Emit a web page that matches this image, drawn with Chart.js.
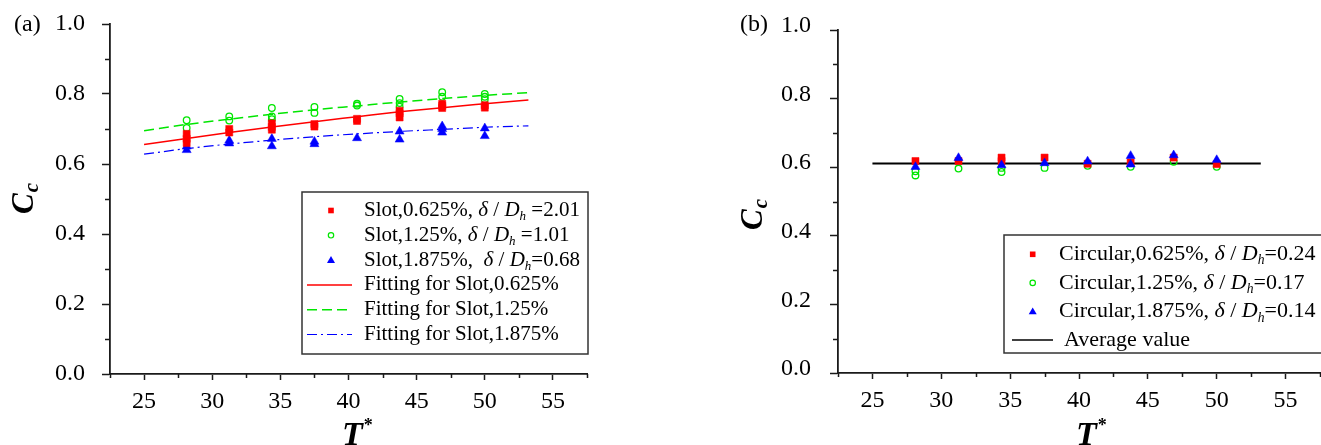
<!DOCTYPE html>
<html>
<head>
<meta charset="utf-8">
<script src="https://cdn.jsdelivr.net/npm/chart.js@4.4.1/dist/chart.umd.min.js"></script>
<style>
  html, body { margin: 0; padding: 0; background: #fff; }
  body { width: 1321px; height: 445px; position: relative; overflow: hidden; }
  .panel { position: absolute; top: 0; height: 445px; }
  #panelA { left: 0; width: 660px; }
  #panelB { left: 700px; width: 621px; }
</style>
</head>
<body>
<div class="panel" id="panelA"><canvas id="chartA"></canvas></div>
<div class="panel" id="panelB"><canvas id="chartB"></canvas></div>
<script>
// T* positions of the measured columns
const tCols = [28.125, 31.25, 34.375, 37.5, 40.625, 43.75, 46.875, 50];

// (a) slot openings, several repeats per column
const slot0625 = [[0.686, 0.672, 0.660], [0.700, 0.690], [0.716, 0.706, 0.698], [0.714, 0.707], [0.729, 0.723], [0.752, 0.745, 0.733], [0.772, 0.766, 0.760], [0.768, 0.761]];
const slot125 = [[0.725, 0.703], [0.736, 0.724], [0.760, 0.736, 0.728], [0.763, 0.746], [0.772, 0.767], [0.786, 0.774, 0.764], [0.805, 0.792], [0.800, 0.792, 0.785]];
const slot1875 = [[0.650, 0.640], [0.667, 0.659], [0.672, 0.651], [0.664, 0.657], [0.674], [0.693, 0.670], [0.708, 0.700, 0.690], [0.702, 0.680]];

// (a) fitted curves
const fitT = [25, 28.125, 31.25, 34.375, 37.5, 40.625, 43.75, 46.875, 50, 53.2];
const fit0625 = [0.656, 0.673, 0.690, 0.706, 0.721, 0.735, 0.749, 0.761, 0.772, 0.783];
const fit125 = [0.695, 0.713, 0.728, 0.742, 0.755, 0.766, 0.777, 0.787, 0.796, 0.804];
const fit1875 = [0.628, 0.644, 0.657, 0.668, 0.678, 0.686, 0.693, 0.699, 0.705, 0.709];

// (b) circular openings
const circ0625 = [[0.618], [0.618], [0.628, 0.618], [0.628], [0.610], [0.614], [0.628], [0.609]];
const circ125 = [[0.588, 0.576], [0.596], [0.598, 0.586], [0.598], [0.604], [0.601], [0.616], [0.601]];
const circ1875 = [[0.601], [0.627], [0.606], [0.612], [0.617], [0.633, 0.608], [0.635], [0.621]];
const avgT = [25, 53.2];
const avgVal = [0.611, 0.611];

// axis ticks
const xTicks = [25, 30, 35, 40, 45, 50, 55];
const xMinor = [22.5, 27.5, 32.5, 37.5, 42.5, 47.5, 52.5, 57.5];
const yTicks = [0, 0.2, 0.4, 0.6, 0.8, 1.0];
const yMinor = [0.1, 0.3, 0.5, 0.7, 0.9];

const serif = '"Liberation Serif", "Times New Roman", serif';
const axisColor = '#1a1a1a';
const RED = '#ff0000', GREEN = '#00e600', BLUE = '#0000ff';

function columnPoints(cols) {
  return cols.flatMap((vals, i) => vals.map(v => ({ x: tCols[i], y: v })));
}
function linePoints(xs, ys) {
  return xs.map((x, i) => ({ x: x, y: ys[i] }));
}

function markerSet(data, style, color, order) {
  const hollow = style === 'circle';
  return {
    data: data,
    order: order,
    showLine: false,
    pointStyle: style,
    pointRadius: style === 'rect' ? 5 : style === 'triangle' ? 5.2 : 3.3,
    pointBackgroundColor: hollow ? 'rgba(255,255,255,0)' : color,
    pointBorderColor: color,
    pointBorderWidth: hollow ? 1.3 : 0.5
  };
}
function lineSet(data, color, dash, width, order) {
  return {
    data: data,
    order: order,
    showLine: true,
    pointRadius: 0,
    borderColor: color,
    borderWidth: width,
    borderDash: dash,
    cubicInterpolationMode: 'monotone'
  };
}

// no extra label padding, so the layout padding alone places the plot area
function noPad(s) {
  s.paddingTop = 0;
  s.paddingBottom = 0;
  s.paddingLeft = 0;
  s.paddingRight = 0;
}

function makeScales(yWidth, xHeight, yShift, yPad) {
  return {
    x: {
      type: 'linear',
      min: 22.5,
      max: 57.5,
      afterBuildTicks: s => { s.ticks = xTicks.map(v => ({ value: v })); },
      afterFit: s => { s.height = xHeight; noPad(s); },
      border: { display: true, color: axisColor, width: 1.8 },
      grid: { display: true, drawOnChartArea: false, drawTicks: true, tickLength: 6, tickColor: axisColor, tickWidth: 1.5 },
      ticks: { color: '#000', font: { family: serif, size: 24 }, padding: 7, maxRotation: 0, autoSkip: false, callback: v => String(v) }
    },
    y: {
      type: 'linear',
      min: 0,
      max: 1,
      afterBuildTicks: s => { s.ticks = yTicks.map(v => ({ value: v })); },
      afterFit: s => { s.width = yWidth; noPad(s); },
      border: { display: true, color: axisColor, width: 1.8 },
      grid: { display: true, drawOnChartArea: false, drawTicks: true, tickLength: 8, tickColor: axisColor, tickWidth: 1.5 },
      ticks: { color: '#000', font: { family: serif, size: 24 }, padding: yPad, labelOffset: yShift, callback: v => v.toFixed(1) }
    }
  };
}

// rich text: plain / italic / subscript pieces
function drawRich(ctx, parts, x, y, size) {
  parts.forEach(p => {
    const fs = p.sub ? size * 0.62 : size;
    ctx.font = (p.it ? 'italic ' : '') + fs + 'px ' + serif;
    ctx.fillText(p.t, x, y + (p.sub ? size * 0.3 : 0));
    x += ctx.measureText(p.t).width;
  });
}

function drawMarker(ctx, kind, color, x, y) {
  ctx.save();
  ctx.fillStyle = color;
  ctx.strokeStyle = color;
  ctx.beginPath();
  if (kind === 'rect') {
    ctx.fillRect(x - 2.8, y - 2.8, 5.6, 5.6);
  } else if (kind === 'circle') {
    ctx.lineWidth = 1.2;
    ctx.arc(x, y, 2.7, 0, Math.PI * 2);
    ctx.stroke();
  } else if (kind === 'triangle') {
    ctx.moveTo(x, y - 4);
    ctx.lineTo(x + 4, y + 2.8);
    ctx.lineTo(x - 4, y + 2.8);
    ctx.closePath();
    ctx.fill();
  }
  ctx.restore();
}

// draws minor ticks, panel tag, axis titles and the boxed legend
const decorPlugin = {
  id: 'decor',
  afterDraw(chart, args, opts) {
    const ctx = chart.ctx;
    const xs = chart.scales.x, ys = chart.scales.y;
    const area = chart.chartArea;
    ctx.save();

    // minor ticks
    ctx.strokeStyle = axisColor;
    ctx.lineWidth = 1.5;
    ctx.beginPath();
    xMinor.forEach(v => {
      const px = Math.round(xs.getPixelForValue(v)) + 0.5;
      ctx.moveTo(px, area.bottom);
      ctx.lineTo(px, area.bottom + 4);
    });
    yMinor.forEach(v => {
      const py = Math.round(ys.getPixelForValue(v)) + 0.5;
      ctx.moveTo(area.left - 5, py);
      ctx.lineTo(area.left, py);
    });
    ctx.stroke();

    ctx.fillStyle = '#000';
    ctx.textBaseline = 'middle';
    ctx.textAlign = 'left';

    // panel tag
    ctx.font = '24px ' + serif;
    ctx.fillText(opts.tag, opts.tagX, opts.tagY);

    // y title C_c (rotated)
    ctx.save();
    ctx.translate(opts.cX, opts.cY);
    ctx.rotate(-Math.PI / 2);
    ctx.textBaseline = 'alphabetic';
    ctx.font = 'bold italic 31px ' + serif;
    ctx.fillText('C', 0, 0);
    const cw = ctx.measureText('C').width;
    ctx.font = 'bold italic 21px ' + serif;
    ctx.fillText('c', cw + 1, 5);
    ctx.restore();

    // x title T*
    ctx.textBaseline = 'alphabetic';
    ctx.font = 'bold italic 34px ' + serif;
    ctx.fillText('T', opts.tX, opts.tY);
    const tw = ctx.measureText('T').width;
    ctx.font = 'bold 18px ' + serif;
    ctx.fillText('*', opts.tX + tw + 1, opts.tY - 14);

    // legend box
    const lg = opts.legend;
    ctx.strokeStyle = '#333';
    ctx.lineWidth = 1.5;
    ctx.strokeRect(lg.x, lg.y, lg.w, lg.h);
    ctx.textBaseline = 'middle';
    lg.items.forEach((it, i) => {
      const ry = lg.firstRow + i * lg.step;
      if (it.kind === 'line') {
        ctx.save();
        ctx.strokeStyle = it.color;
        ctx.lineWidth = it.width;
        ctx.setLineDash(it.dash);
        ctx.beginPath();
        ctx.moveTo(lg.lineX0, ry);
        ctx.lineTo(lg.lineX1, ry);
        ctx.stroke();
        ctx.restore();
      } else {
        drawMarker(ctx, it.kind, it.color, lg.markX, ry);
      }
      ctx.fillStyle = '#000';
      drawRich(ctx, it.parts, it.textX || lg.textX, ry, lg.font);
    });
    ctx.restore();
  }
};

function deltaParts(prefix, gap, tail) {
  return [
    { t: prefix }, { t: 'δ', it: true }, { t: ' / ' }, { t: 'D', it: true },
    { t: 'h', it: true, sub: true }, { t: gap + tail }
  ];
}

const dashGreen = [10, 5];
const dashBlue = [10, 4, 2, 4];

new Chart(document.getElementById('chartA'), {
  type: 'scatter',
  data: {
    datasets: [
      lineSet(linePoints(fitT, fit0625), RED, [], 1.5, 2),
      lineSet(linePoints(fitT, fit125), GREEN, dashGreen, 1.5, 2),
      lineSet(linePoints(fitT, fit1875), BLUE, dashBlue, 1.2, 2),
      markerSet(columnPoints(slot125), 'circle', GREEN, 1),
      markerSet(columnPoints(slot0625), 'rect', RED, 0),
      markerSet(columnPoints(slot1875), 'triangle', BLUE, 0)
    ]
  },
  options: {
    responsive: true,
    maintainAspectRatio: false,
    animation: false,
    devicePixelRatio: 1,
    layout: { autoPadding: false, padding: { top: 24, right: 73, left: 0, bottom: 0 } },
    plugins: {
      legend: { display: false },
      tooltip: { enabled: false },
      decor: {
        tag: '(a)', tagX: 14, tagY: 25,
        cX: 33, cY: 214,
        tX: 342, tY: 445,
        legend: {
          x: 302, y: 192, w: 286, h: 162,
          firstRow: 210.5, step: 24.8, font: 21,
          markX: 331, lineX0: 307, lineX1: 352, textX: 364,
          items: [
            { kind: 'rect', color: RED, parts: deltaParts('Slot,0.625%, ', ' ', '=2.01') },
            { kind: 'circle', color: GREEN, parts: deltaParts('Slot,1.25%, ', ' ', '=1.01') },
            { kind: 'triangle', color: BLUE, parts: deltaParts('Slot,1.875%,  ', '', '=0.68') },
            { kind: 'line', color: RED, dash: [], width: 1.5, parts: [{ t: 'Fitting for Slot,0.625%' }] },
            { kind: 'line', color: GREEN, dash: dashGreen, width: 1.5, parts: [{ t: 'Fitting for Slot,1.25%' }] },
            { kind: 'line', color: BLUE, dash: dashBlue, width: 1.2, parts: [{ t: 'Fitting for Slot,1.875%' }] }
          ]
        }
      }
    },
    scales: makeScales(110, 71, 0, 17)
  },
  plugins: [decorPlugin]
});

new Chart(document.getElementById('chartB'), {
  type: 'scatter',
  data: {
    datasets: [
      lineSet(linePoints(avgT, avgVal), '#000', [], 2, 3),
      markerSet(columnPoints(circ125), 'circle', GREEN, 2),
      markerSet(columnPoints(circ0625), 'rect', RED, 1),
      markerSet(columnPoints(circ1875), 'triangle', BLUE, 0)
    ]
  },
  options: {
    responsive: true,
    maintainAspectRatio: false,
    animation: false,
    devicePixelRatio: 1,
    layout: { autoPadding: false, padding: { top: 30, right: 1, left: 0, bottom: 0 } },
    plugins: {
      legend: { display: false },
      tooltip: { enabled: false },
      decor: {
        tag: '(b)', tagX: 40, tagY: 25,
        cX: 62, cY: 230,
        tX: 376, tY: 445,
        legend: {
          x: 304, y: 235, w: 320, h: 118,
          firstRow: 254.3, step: 28.6, font: 22,
          markX: 332.7, lineX0: 312, lineX1: 353, textX: 359,
          items: [
            { kind: 'rect', color: RED, parts: deltaParts('Circular,0.625%, ', '', '=0.24') },
            { kind: 'circle', color: GREEN, parts: deltaParts('Circular,1.25%, ', '', '=0.17') },
            { kind: 'triangle', color: BLUE, parts: deltaParts('Circular,1.875%, ', '', '=0.14') },
            { kind: 'line', color: '#000', dash: [], width: 1.5, textX: 364, parts: [{ t: 'Average value' }] }
          ]
        }
      }
    },
    scales: makeScales(138, 72, -4, 19)
  },
  plugins: [decorPlugin]
});
</script>
</body>
</html>
